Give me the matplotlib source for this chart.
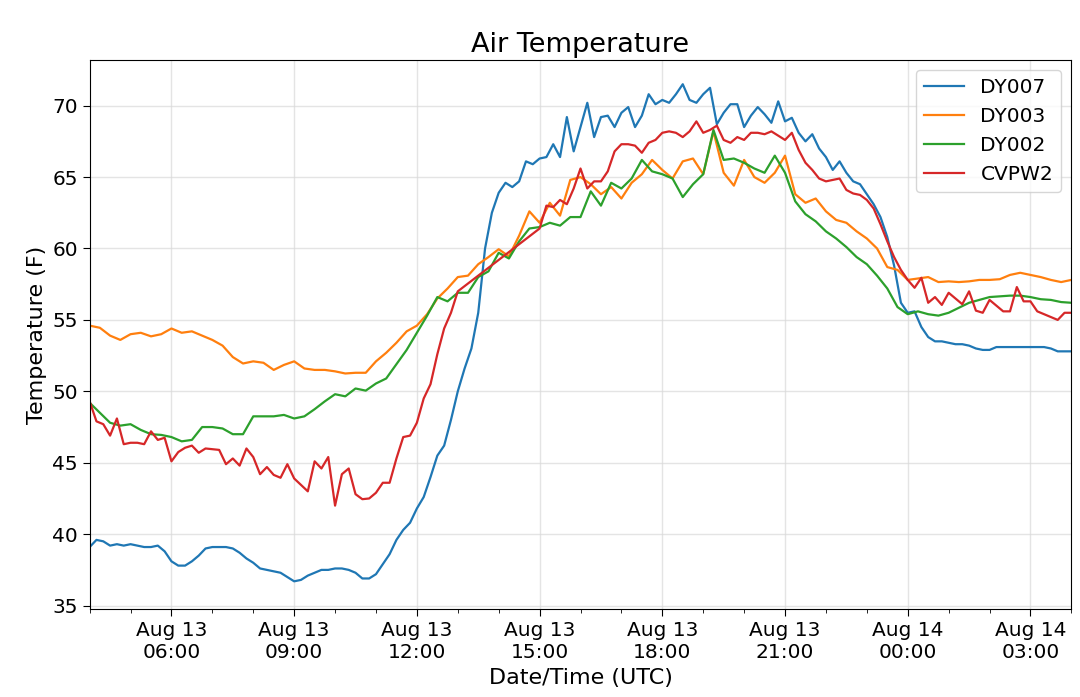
import numpy as np
import pandas as pd
import matplotlib
matplotlib.use("Agg")
import matplotlib.pyplot as plt
import matplotlib.dates as mdates

# time bases
t10 = pd.date_range("2018-08-13 04:00", "2018-08-14 04:00", freq="10min")
t15 = pd.date_range("2018-08-13 04:00", "2018-08-14 04:00", freq="15min")
# CVPW2 has no data between 13:00 and 15:00
t_cvpw2 = t10[(t10 <= "2018-08-13 13:00") | (t10 >= "2018-08-13 15:00")]

# DY007, every 10 min
dy007 = [
    39.1, 39.6, 39.5, 39.2, 39.3, 39.2, 39.3, 39.2, 39.1, 39.1, 39.2, 38.8,
    38.1, 37.8, 37.8, 38.1, 38.5, 39.0, 39.1, 39.1, 39.1, 39.0, 38.7, 38.3,
    38.0, 37.6, 37.5, 37.4, 37.3, 37.0, 36.7, 36.8, 37.1, 37.3, 37.5, 37.5,
    37.6, 37.6, 37.5, 37.3, 36.9, 36.9, 37.2, 37.9, 38.6, 39.6, 40.3, 40.8,
    41.8, 42.6, 44.0, 45.5, 46.2, 48.0, 50.0, 51.6, 53.0, 55.5, 60.0, 62.5,
    63.9, 64.6, 64.3, 64.7, 66.1, 65.9, 66.3, 66.4, 67.3, 66.4, 69.2, 66.8,
    68.5, 70.2, 67.8, 69.2, 69.3, 68.5, 69.5, 69.9, 68.5, 69.3, 70.8, 70.1,
    70.4, 70.2, 70.8, 71.5, 70.4, 70.2, 70.8, 71.25, 68.7, 69.5, 70.1, 70.1,
    68.5, 69.3, 69.9, 69.4, 68.8, 70.3, 68.9, 69.15, 68.1, 67.5, 68.0, 67.0,
    66.4, 65.5, 66.1, 65.3, 64.7, 64.5, 63.8, 63.1, 62.2, 60.8, 58.8, 56.2,
    55.5, 55.6, 54.5, 53.8, 53.5, 53.5, 53.4, 53.3, 53.3, 53.2, 53.0, 52.9,
    52.9, 53.1, 53.1, 53.1, 53.1, 53.1, 53.1, 53.1, 53.1, 53.0, 52.8, 52.8,
    52.8,
]

# DY003, every 15 min
dy003 = [
    54.6, 54.45, 53.9, 53.6, 54.0, 54.1, 53.85, 54.0, 54.4, 54.1, 54.2, 53.9,
    53.6, 53.2, 52.4, 51.95, 52.1, 52.0, 51.5, 51.85, 52.1, 51.6, 51.5, 51.5,
    51.4, 51.25, 51.3, 51.3, 52.1, 52.7, 53.4, 54.2, 54.6, 55.4, 56.5, 57.2,
    58.0, 58.1, 58.9, 59.4, 59.95, 59.45, 60.9, 62.6, 61.8, 63.2, 62.3, 64.8,
    65.0, 64.5, 63.8, 64.3, 63.5, 64.6, 65.2, 66.2, 65.5, 64.9, 66.1, 66.3,
    65.2, 68.2, 65.3, 64.4, 66.2, 65.0, 64.6, 65.3, 66.5, 63.8, 63.2, 63.5,
    62.6, 62.0, 61.8, 61.2, 60.7, 60.0, 58.7, 58.5, 57.8, 57.9, 58.0, 57.65,
    57.7, 57.65, 57.7, 57.8, 57.8, 57.85, 58.15, 58.3, 58.15, 58.0, 57.8, 57.65,
    57.8,
]

# DY002, every 15 min
dy002 = [
    49.2, 48.5, 47.8, 47.6, 47.7, 47.3, 47.0, 46.95, 46.8, 46.5, 46.6, 47.5,
    47.5, 47.4, 47.0, 47.0, 48.25, 48.25, 48.25, 48.35, 48.1, 48.25, 48.75, 49.3,
    49.8, 49.65, 50.2, 50.05, 50.55, 50.9, 51.9, 52.9, 54.1, 55.3, 56.6, 56.3,
    56.9, 56.9, 58.0, 58.4, 59.7, 59.3, 60.5, 61.4, 61.5, 61.8, 61.6, 62.2,
    62.2, 64.0, 63.0, 64.6, 64.2, 64.9, 66.2, 65.4, 65.2, 64.9, 63.6, 64.5,
    65.2, 68.3, 66.2, 66.3, 66.0, 65.6, 65.3, 66.5, 65.3, 63.3, 62.4, 61.9,
    61.2, 60.7, 60.1, 59.4, 58.9, 58.1, 57.2, 55.9, 55.4, 55.6, 55.4, 55.3,
    55.5, 55.85, 56.2, 56.4, 56.6, 56.65, 56.7, 56.7, 56.6, 56.45, 56.4, 56.25,
    56.2,
]

# CVPW2, every 10 min with a gap
cvpw2 = [
    49.3, 47.9, 47.7, 46.9, 48.1, 46.3, 46.4, 46.4, 46.3, 47.2, 46.6, 46.75,
    45.1, 45.75, 46.05, 46.2, 45.7, 46.0, 45.95, 45.9, 44.9, 45.3, 44.8, 46.0,
    45.4, 44.2, 44.7, 44.15, 43.95, 44.9, 43.9, 43.45, 43.0, 45.1, 44.6, 45.4,
    42.0, 44.2, 44.6, 42.8, 42.45, 42.5, 42.9, 43.6, 43.6, 45.3, 46.8, 46.9,
    47.8, 49.5, 50.5, 52.6, 54.4, 55.5, 57.0,
    61.4, 63.0, 62.9, 63.4, 63.1, 64.2, 65.6, 64.2, 64.7, 64.7, 65.4, 66.8,
    67.3, 67.3, 67.2, 66.7, 67.4, 67.6, 68.1, 68.2, 68.1, 67.8, 68.2, 68.9,
    68.1, 68.3, 68.6, 67.6, 67.4, 67.8, 67.6, 68.1, 68.1, 68.0, 68.2, 67.9,
    67.6, 68.1, 66.9, 66.0, 65.5, 64.9, 64.7, 64.8, 64.9, 64.1, 63.85, 63.75,
    63.4, 62.8, 61.7, 60.5, 59.4, 58.5, 57.8, 57.25, 57.95, 56.2, 56.6, 56.05,
    56.9, 56.5, 56.1, 57.0, 55.65, 55.5, 56.4, 56.0, 55.6, 55.6, 57.3, 56.3,
    56.3, 55.6, 55.4, 55.2, 55.0, 55.5, 55.5,
]

fig, ax = plt.subplots(figsize=(10.8, 6.97), dpi=100)
fig.subplots_adjust(left=0.083, right=0.992, bottom=0.126, top=0.914)

ax.plot(t10, dy007, color="tab:blue", lw=1.6, label="DY007")
ax.plot(t15, dy003, color="tab:orange", lw=1.6, label="DY003")
ax.plot(t15, dy002, color="tab:green", lw=1.6, label="DY002")
ax.plot(t_cvpw2, cvpw2, color="tab:red", lw=1.6, label="CVPW2")

ax.set_xlim(t10[0], t10[-1])
ax.set_ylim(34.75, 73.2)
ax.set_yticks(np.arange(35, 71, 5))

ax.xaxis.set_major_locator(mdates.HourLocator(byhour=range(0, 24, 3)))
ax.xaxis.set_minor_locator(mdates.HourLocator())
ax.xaxis.set_major_formatter(mdates.DateFormatter("%b %d\n%H:%M"))

ax.tick_params(axis="both", which="major", labelsize=14.5, length=5)
ax.tick_params(axis="x", which="minor", length=3)
ax.grid(True, which="major", color="0.85", alpha=0.7, lw=1)

ax.set_title("Air Temperature", fontsize=19.5)
ax.set_xlabel("Date/Time (UTC)", fontsize=16)
ax.set_ylabel("Temperature (F)", fontsize=16)
ax.legend(loc="upper right", fontsize=14.5)

fig.savefig("out.png")
